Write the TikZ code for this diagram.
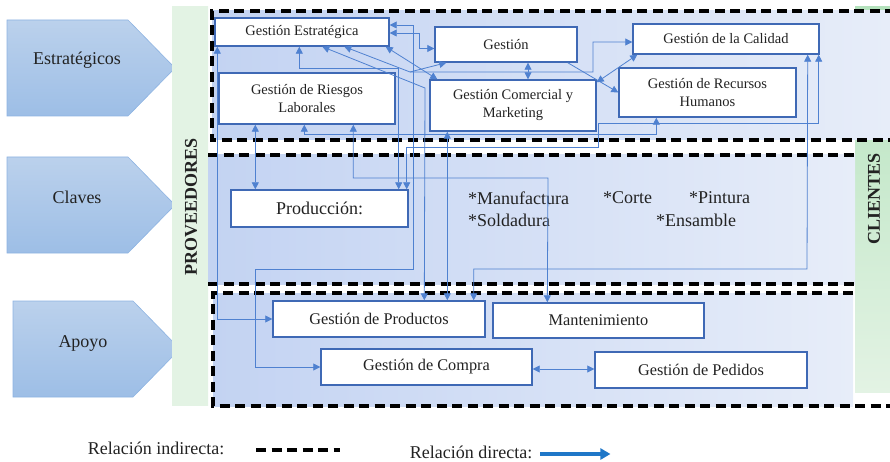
\documentclass[tikz,border=0pt]{standalone}
\usepackage{fontspec}
\setmainfont{Liberation Serif}
\usepackage{tikz}
\usetikzlibrary{calc,positioning,arrows.meta}
\definecolor{flechaazul}{HTML}{4F81D0}
\definecolor{cajaborde}{HTML}{3F69B5}
\definecolor{zonaizq}{HTML}{C3D3F2}
\definecolor{zonader}{HTML}{E7EDF9}
\definecolor{faseclaro}{HTML}{BBD1EC}
\definecolor{faseoscuro}{HTML}{9DBEE6}
\definecolor{faseborde}{HTML}{8DB3E2}
\definecolor{verdeclaro}{HTML}{E3F3E4}
\definecolor{verdemedio}{HTML}{ACDFB5}
\definecolor{leyenda}{HTML}{1F77C8}
\definecolor{texto}{HTML}{222222}
\newcommand{\chico}{\fontsize{14.5}{18}\selectfont}
\newcommand{\medio}{\fontsize{16.3}{19}\selectfont}
\newcommand{\grande}{\fontsize{18}{21}\selectfont}
\tikzset{caja/.style={draw=cajaborde,fill=white,line width=1.4pt,inner sep=0pt,
align=center,text=texto,font=\chico},fase/.style={draw=faseborde,line width=0.6pt,
top color=faseclaro,bottom color=faseoscuro},zona/.style={left color=zonaizq,
right color=zonader},lema/.style={text=texto,font=\grande,inner sep=0pt}}
\tikzstyle{indirecta} = [line width=3.8pt,dash pattern=on 10pt off 5.5pt]
\tikzstyle{flecha}    = [draw=flechaazul,line width=0.8pt,-{Triangle[length=7pt,width=7pt]}]
\tikzstyle{doble}     = [flecha,{Triangle[length=7pt,width=7pt]}-{Triangle[length=7pt,width=7pt]}]
\begin{document}
\begin{tikzpicture}[x=1pt,y=-1pt]
		\useasboundingbox (0,0) rectangle (890,462);
		\path[fase] (7,20) -- (128,20) -- (175,68) -- (128,116) -- (7,116) -- cycle;
		\path[fase] (7,157) -- (128,157) -- (175,205) -- (128,253) -- (7,253) -- cycle;
		\path[fase] (13,301) -- (133,301) -- (180,349) -- (133,397) -- (13,397) -- cycle;
		\node[lema] (estr) at (77,60) {Estratégicos};
		\node[lema] (clav) at (77,197) {Claves};
		\node[lema] (apoy) at (83,343) {Apoyo};
		\path[top color=verdeclaro,middle color=verdemedio,bottom color=verdeclaro] (172,7) rectangle (208,405);
		\path[top color=verdemedio!90,bottom color=verdeclaro] (855,7) rectangle (890,392);
		\node[lema,font=\grande\bfseries,rotate=90] (prov) at (191,207) {PROVEEDORES};
		\node[lema,font=\grande\bfseries,rotate=90] (clie) at (874,199) {CLIENTES};
		\path[zona] (212,11) rectangle (890,140);
		\draw[indirecta] (895,11) -- (212,11) -- (212,140) -- (895,140);
		\path[zona] (208,155) rectangle (855,284);
		\draw[indirecta] (208,155) -- (855,155);
		\draw[indirecta] (208,284) -- (855,284);
		\path[zona] (213,293) rectangle (853,406);
		\draw[indirecta] (853,293) -- (213,293) -- (213,406) -- (890,406);
		\node[caja,minimum width=174pt,minimum height=28pt] (est) at (302,32) {Gestión Estratégica};
		\node[caja,minimum width=176pt,minimum height=51pt] (rie) at (307,98.5) {Gestión de Riesgos\\Laborales};
		\node[caja,minimum width=142pt,minimum height=35pt] (ges) at (506,44.5) {Gestión};
		\node[caja,minimum width=166pt,minimum height=51pt] (com) at (513,105.5) {Gestión Comercial y\\Marketing};
		\node[caja,minimum width=186pt,minimum height=30pt] (cal) at (726,39) {Gestión de la Calidad};
		\node[caja,minimum width=177pt,minimum height=49pt] (rrhh) at (707.5,92.5) {Gestión de Recursos\\Humanos};
		\node[caja,font=\grande,minimum width=177pt,minimum height=37pt] (prod) at (319.5,208.5) {Producción:};
		\node[caja,font=\medio,minimum width=212pt,minimum height=36pt] (gpro) at (379,319) {Gestión de Productos};
		\node[caja,font=\medio,minimum width=211pt,minimum height=35pt] (mant) at (598.5,320.5) {Mantenimiento};
		\node[caja,font=\medio,minimum width=211pt,minimum height=36pt] (gcom) at (426.5,367) {Gestión de Compra};
		\node[caja,font=\medio,minimum width=212pt,minimum height=36pt] (gped) at (701,370) {Gestión de Pedidos};
		\node[lema,anchor=west] (manu) at (468,198) {*Manufactura};
		\node[lema,anchor=west] (cort) at (603,198) {*Corte};
		\node[lema,anchor=west] (pint) at (689,198) {*Pintura};
		\node[lema,anchor=west] (sold) at (468,220) {*Soldadura};
		\node[lema,anchor=west] (ensa) at (656,220) {*Ensamble};
		\coordinate (cruce) at (410,72);
		\draw[doble] ([xshift=3pt]est.south west) |- (gpro.west);
		\draw[doble] ([xshift=25pt]prod.north west |- rie.south) -- ([xshift=25pt]prod.north west);
		\draw[doble] ([xshift=85pt]est.south west) -- ++(0,22) -| ([xshift=-10pt]prod.north east);
		\draw[doble] ([yshift=7pt]est.east) -| (413,269) -- (255,269) |- (gcom.west);
		\draw[doble] ([yshift=-1pt]est.east) -- (419,33) |- ([yshift=-4pt]ges.west);
		\draw[doble] ([xshift=86pt]rie.south west) -- ++(0,10) -| ([xshift=38pt]rrhh.south west);
		\draw[doble] ([xshift=-1pt]cal.south east) |- (598,123) -- (598,147) -| ([xshift=-2pt]prod.north east);
		\draw[doble] ([xshift=-12pt]cal.south east) -- (807,269) -| ([xshift=-12pt]gpro.north east);
		\draw[doble] ([xshift=18pt]com.south west) -- ([xshift=18pt]com.south west |- gpro.north);
		\draw[doble] ([xshift=108pt]est.south west) -- (425,88) -- ([xshift=152pt]gpro.north west);
		\draw[doble] ([xshift=130pt]est.south west) -- (cruce) -- (593,72) |- ([yshift=-3pt]cal.west);
		\draw[doble] ([xshift=-4pt]est.south east) -- ([xshift=8pt]com.north west);
		\draw[flecha] (cruce) -- ([xshift=12pt]ges.south west);
		\draw[doble] ([xshift=22pt]ges.south) -- ([xshift=22pt]ges.south |- com.north);
		\draw[flecha] ([xshift=-10pt]ges.south east) -- (rrhh.west);
		\draw[doble] ([yshift=-3pt]com.north east) -- ([xshift=5pt]cal.south west);
		\draw[doble] ([xshift=55pt]mant.north west) -- (548,178) -| ([xshift=135pt]rie.south west);
		\draw[doble] ([yshift=-2pt]gcom.east) -- ([yshift=-2pt]gcom.east -| gped.west);
		\node[lema] (lind) at (156,448) {Relación indirecta:};
		\node[lema] (ldir) at (471,452) {Relación directa:};
		\coordinate (dini) at (256,450);
		\coordinate (dfin) at (340,450);
		\draw[indirecta] (dini) -- (dfin);
		\draw[draw=leyenda,line width=3.5pt,-{Triangle[length=10pt,width=11pt]}] (ldir.east) ++(8,2) coordinate (aini) -- ++(70,0) coordinate (afin);
	\end{tikzpicture}
\end{document}
